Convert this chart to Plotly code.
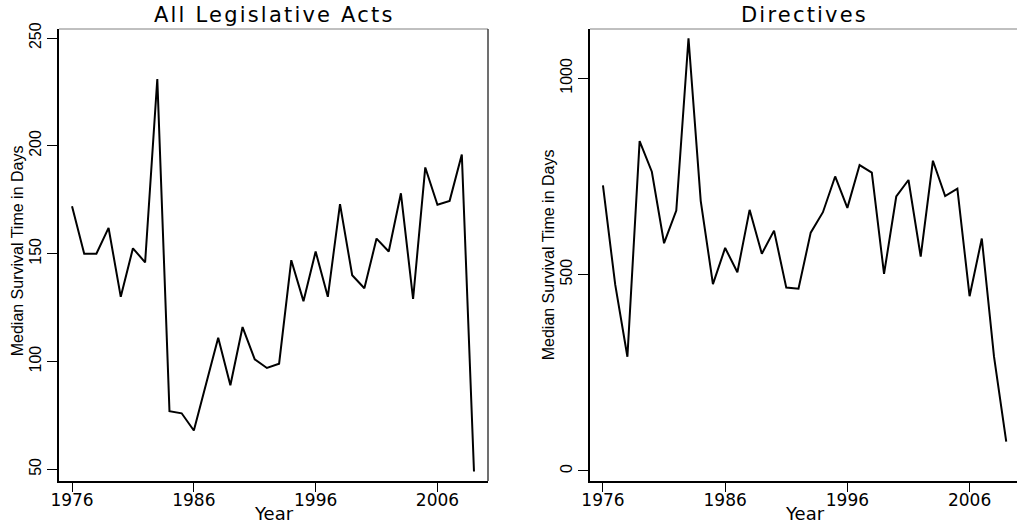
import plotly.graph_objects as go

years = [1976, 1977, 1978, 1979, 1980, 1981, 1982, 1983, 1984, 1985,
         1986, 1987, 1988, 1989, 1990, 1991, 1992, 1993, 1994, 1995,
         1996, 1997, 1998, 1999, 2000, 2001, 2002, 2003, 2004, 2005,
         2006, 2007, 2008, 2009]

all_acts = [172, 150, 150, 162, 130, 152.5, 146, 231, 77, 76,
            68, 90, 111, 89, 116, 101, 97, 99, 147, 128,
            151, 130, 173, 140, 134, 157, 151, 178, 129, 190,
            172.7, 174.5, 196, 49]

directives = [727, 475, 291, 840, 762, 580, 663, 1102, 688, 476,
              568, 506, 665, 553, 612, 467, 464, 607, 659, 750,
              670, 779, 760, 502, 699, 741, 546, 790, 700, 719,
              445, 592, 291, 75]

x_ticks = [1976, 1986, 1996, 2006]
left_y_ticks = [50, 100, 150, 200, 250]
right_y_ticks = [0, 500, 1000]

titles = ["All Legislative Acts", "Directives"]
x_title = "Year"
y_title = "Median Survival Time in Days"

W, H = 1017, 523
def px(v):
    return v / W
def py(v):
    return 1 - v / H

L_DOM = [px(59), px(488)]
R_DOM = [px(590), 1.0]
Y_DOM = [py(481), py(29)]

fig = go.Figure()
fig.add_trace(go.Scatter(x=years, y=all_acts, mode="lines",
                         line=dict(color="black", width=2),
                         xaxis="x", yaxis="y", hoverinfo="skip"))
fig.add_trace(go.Scatter(x=years, y=directives, mode="lines",
                         line=dict(color="black", width=2),
                         xaxis="x2", yaxis="y2", hoverinfo="skip"))

xfont = dict(family="DejaVu Sans", size=17, color="black")
yfont = dict(family="Liberation Sans", size=16, color="black")

def xaxis(domain, rng, anchor):
    return dict(domain=domain, range=rng, anchor=anchor, automargin=False,
                tickvals=x_ticks, ticktext=[str(t) for t in x_ticks],
                ticks="outside", ticklen=9, tickwidth=1, tickcolor="black",
                ticklabelstandoff=-6,
                showline=True, linecolor="black", linewidth=2,
                showgrid=False, zeroline=False, tickfont=xfont)

def yaxis(domain, rng, anchor, tv):
    return dict(domain=domain, range=rng, anchor=anchor, automargin=False,
                tickvals=tv, ticktext=[str(t) for t in tv],
                ticks="outside", ticklen=10, tickwidth=1, tickcolor="black",
                showline=True, linecolor="black", linewidth=2,
                showgrid=False, zeroline=False, tickfont=yfont,
                tickangle=-90)

ann = []
title_font = dict(family="DejaVu Sans", size=21, color="black")
for t, cx in zip(titles, [273.5, 803.5]):
    ann.append(dict(text='<span style="letter-spacing:2.2px">' + t + '</span>',
                    x=px(cx + 1.1), y=py(15), xref="paper", yref="paper",
                    xanchor="center", yanchor="middle", showarrow=False,
                    font=title_font))
for cx in [273.5, 804.5]:
    ann.append(dict(text=x_title, x=px(cx), y=py(513), xref="paper", yref="paper",
                    xanchor="center", yanchor="middle", showarrow=False,
                    font=dict(family="DejaVu Sans", size=18, color="black")))
for cx, cy in [(18.3, 251), (548.3, 255)]:
    ann.append(dict(text=y_title, x=px(cx), y=py(cy), xref="paper", yref="paper",
                    xanchor="center", yanchor="middle", showarrow=False,
                    textangle=-90,
                    font=dict(family="Liberation Sans", size=16, color="black")))

shapes = [
    dict(type="line", xref="paper", yref="paper", x0=L_DOM[0], x1=L_DOM[1],
         y0=Y_DOM[1], y1=Y_DOM[1], line=dict(color="#808080", width=1)),
    dict(type="line", xref="paper", yref="paper", x0=L_DOM[1], x1=L_DOM[1],
         y0=Y_DOM[0], y1=Y_DOM[1], line=dict(color="#404040", width=1.5)),
    dict(type="line", xref="paper", yref="paper", x0=R_DOM[0], x1=R_DOM[1],
         y0=Y_DOM[1], y1=Y_DOM[1], line=dict(color="#808080", width=1)),
]

fig.update_layout(
    width=W, height=H,
    margin=dict(l=0, r=0, t=0, b=0, pad=0, autoexpand=False),
    paper_bgcolor="white", plot_bgcolor="white",
    showlegend=False,
    xaxis=xaxis(L_DOM, [1974.93, 2010.15], "y"),
    yaxis=yaxis(Y_DOM, [44.6, 254.2], "x", left_y_ticks),
    xaxis2=xaxis(R_DOM, [1974.94, 2009.88], "y2"),
    yaxis2=yaxis(Y_DOM, [-25.5, 1125.5], "x2", right_y_ticks),
    annotations=ann,
    shapes=shapes,
)

fig.write_html("out.html", config=dict(displayModeBar=False),
               post_script="document.body.style.margin='0';document.body.style.overflow='hidden';")
